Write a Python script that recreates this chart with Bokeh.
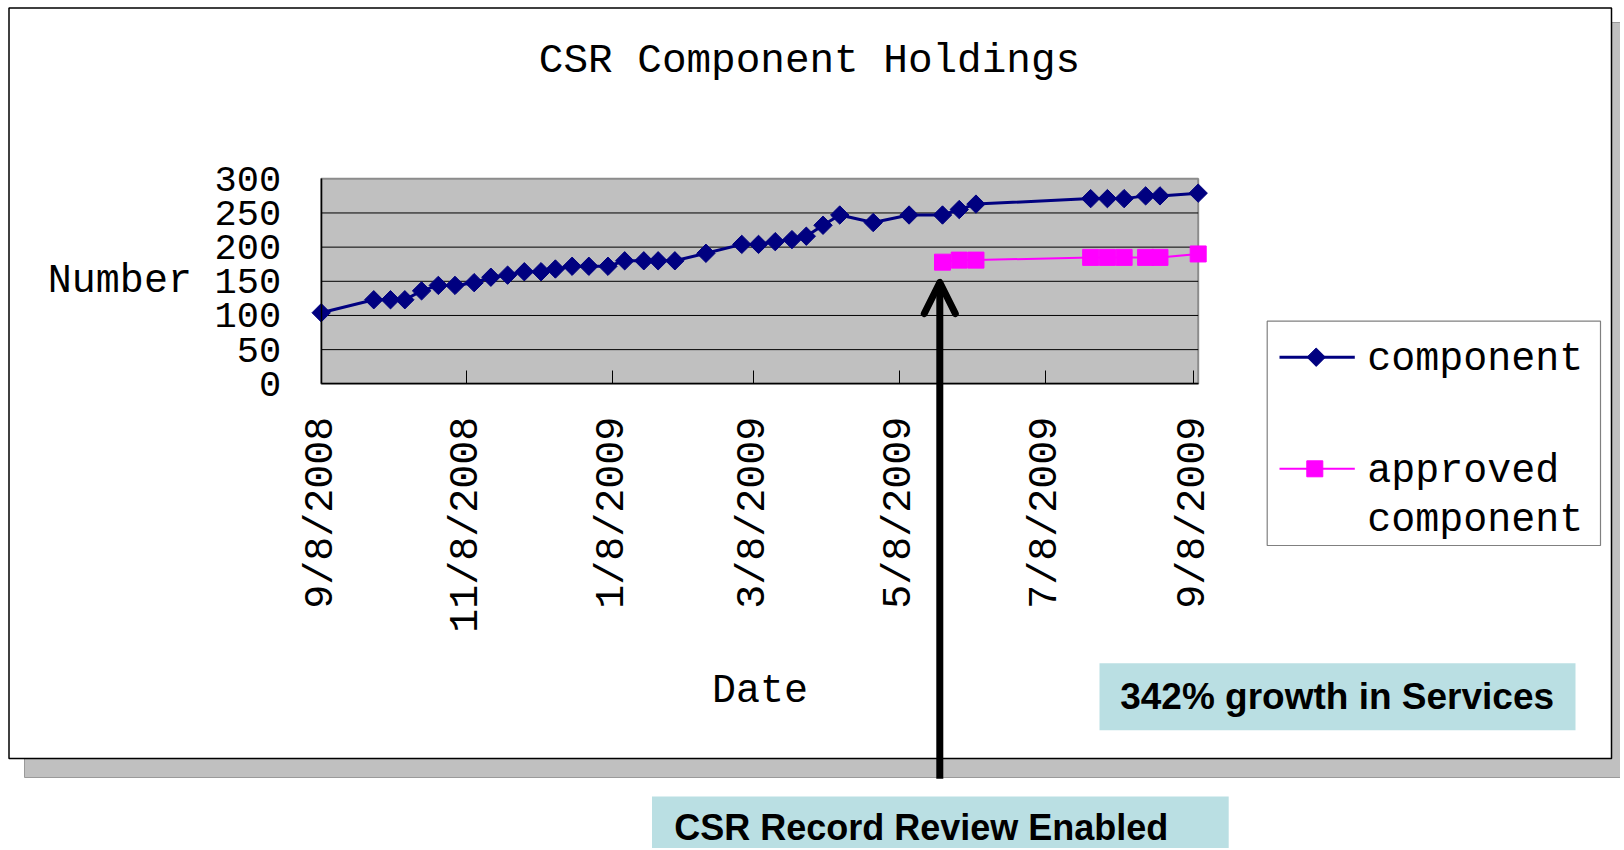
import math
import datetime as dt
from bokeh.plotting import figure
from bokeh.models import Range1d, LinearAxis, FixedTicker, Arrow, OpenHead, ColumnDataSource
from bokeh.core.properties import value
from bokeh.embed import file_html
from bokeh.resources import INLINE

# ---------------- data ----------------
title_text = "CSR Component Holdings"
y_label = "Number"
x_label = "Date"

component_dates = [
    "2008-09-08", "2008-09-30", "2008-10-07", "2008-10-13", "2008-10-20", "2008-10-27",
    "2008-11-03", "2008-11-11", "2008-11-18", "2008-11-25", "2008-12-02", "2008-12-09",
    "2008-12-15", "2008-12-22", "2008-12-29", "2009-01-06", "2009-01-13", "2009-01-21",
    "2009-01-27", "2009-02-03", "2009-02-16", "2009-03-03", "2009-03-10", "2009-03-17",
    "2009-03-24", "2009-03-30", "2009-04-06", "2009-04-13", "2009-04-27", "2009-05-12",
    "2009-05-26", "2009-06-02", "2009-06-09", "2009-07-27", "2009-08-03", "2009-08-10",
    "2009-08-19", "2009-08-25", "2009-09-10",
]
component_values = [
    104, 123, 123, 123, 136, 144,
    144, 148, 156, 159, 164, 164,
    168, 172, 172, 172, 180, 180,
    180, 180, 191, 204, 204, 208,
    211, 216, 232, 247, 236, 247,
    247, 255, 263, 271, 271, 271,
    275, 275, 279,
]
approved_dates = [
    "2009-05-26", "2009-06-02", "2009-06-09", "2009-07-27", "2009-08-03",
    "2009-08-10", "2009-08-19", "2009-08-25", "2009-09-10",
]
approved_values = [178, 181, 181, 185, 185, 185, 185, 185, 190]

x_tick_dates = ["2008-09-08", "2008-11-08", "2009-01-08", "2009-03-08",
                "2009-05-08", "2009-07-08", "2009-09-08"]
x_tick_labels = ["9/8/2008", "11/8/2008", "1/8/2009", "3/8/2009",
                 "5/8/2009", "7/8/2009", "9/8/2009"]
x_end_date = "2009-09-10"
y_ticks = [0, 50, 100, 150, 200, 250, 300]

legend_labels = ["component", "approved\ncomponent"]
note_growth = "342% growth in Services"
note_review = "CSR Record Review  Enabled"

# ---------------- layout ----------------
W, H = 1620, 848
OFF = 0
PLOT_L, PLOT_R = 320.7, 1197.7   # page px of plot area
PLOT_T, PLOT_B = 178.3, 383.3

NAVY = "#000080"
MAGENTA = "#FF00FF"
MONO = "Liberation Mono"
SANS = "Liberation Sans"
NOTE_BG = "#BADFE3"


def ms(s):
    d = dt.datetime.strptime(s, "%Y-%m-%d")
    return (d - dt.datetime(1970, 1, 1)).total_seconds() * 1000.0


t0 = ms(x_tick_dates[0])
t_end = ms(x_end_date)
px_per_ms = (PLOT_R - PLOT_L) / (t_end - t0)
x_start = t0 - (PLOT_L - OFF) / px_per_ms
x_stop = x_start + W / px_per_ms

y_min, y_max = y_ticks[0], y_ticks[-1]
k = (PLOT_B - PLOT_T) / (y_max - y_min)
y_bottom = y_min - (OFF + H - PLOT_B) / k
y_top = y_min + (PLOT_B - OFF) / k

p = figure(width=W, height=H, output_backend="svg", toolbar_location=None,
           x_axis_type=None, y_axis_type=None,
           x_range=Range1d(x_start, x_stop), y_range=Range1d(y_bottom, y_top),
           min_border=0, outline_line_color=None,
           background_fill_color="white", border_fill_color="white")
p.extra_x_ranges = {"px": Range1d(OFF, OFF + W)}
p.extra_y_ranges = {"px": Range1d(OFF + H, OFF)}
PX = dict(x_range_name="px", y_range_name="px")

# slide shadow and white panel
p.quad(left=[24], right=[1700], top=[22], bottom=[777], fill_color="#C0C0C0",
       line_color="#9A9A9A", line_width=1, **PX)
p.quad(left=[8.5], right=[1611], top=[7.5], bottom=[758], fill_color="white",
       line_color="black", line_width=1.5, **PX)

# plot area
p.quad(left=[t0], right=[t_end], bottom=[y_min], top=[y_max], fill_color="#C0C0C0",
       line_color="#8C8C8C", line_width=2)
grid_vals = y_ticks[1:-1]
p.segment(x0=[t0] * len(grid_vals), x1=[t_end] * len(grid_vals), y0=grid_vals, y1=grid_vals,
          line_color="black", line_width=1)

# series
comp = ColumnDataSource(dict(x=[ms(d) for d in component_dates], y=component_values))
appr = ColumnDataSource(dict(x=[ms(d) for d in approved_dates], y=approved_values))
p.line("x", "y", source=comp, line_color=NAVY, line_width=3)
p.scatter("x", "y", source=comp, marker="square", angle=math.pi / 4, size=13,
          fill_color=NAVY, line_color=NAVY)
p.line("x", "y", source=appr, line_color=MAGENTA, line_width=2)
p.scatter("x", "y", source=appr, marker="square", size=16,
          fill_color=MAGENTA, line_color=MAGENTA)

# axes
xaxis = LinearAxis(ticker=FixedTicker(ticks=[ms(d) for d in x_tick_dates]),
                   major_label_overrides={ms(d): l for d, l in zip(x_tick_dates, x_tick_labels)},
                   fixed_location=y_min, bounds=(t0, t_end),
                   axis_label=x_label)
xaxis.axis_line_color = "black"
xaxis.axis_line_width = 1.5
xaxis.major_tick_in = 13
xaxis.major_tick_out = 0
xaxis.major_tick_line_color = "black"
xaxis.minor_tick_line_color = None
xaxis.major_label_orientation = math.pi / 2
xaxis.major_label_standoff = 33
xaxis.major_label_text_font = MONO
xaxis.major_label_text_font_size = "40px"
xaxis.major_label_text_color = "black"
xaxis.axis_label_text_font = MONO
xaxis.axis_label_text_font_size = "40px"
xaxis.axis_label_text_font_style = "normal"
xaxis.axis_label_text_color = "black"
xaxis.axis_label_standoff = 33
p.add_layout(xaxis, "below")

yaxis = LinearAxis(ticker=FixedTicker(ticks=y_ticks), fixed_location=t0,
                   bounds=(y_min, y_max), axis_label=y_label)
yaxis.axis_label_orientation = "horizontal"
yaxis.axis_line_color = "black"
yaxis.axis_line_width = 1.5
yaxis.major_tick_in = 0
yaxis.major_tick_out = 0
yaxis.minor_tick_line_color = None
yaxis.major_label_standoff = 40
yaxis.major_label_text_font = MONO
yaxis.major_label_text_font_size = "37px"
yaxis.major_label_text_color = "black"
yaxis.axis_label_text_font = MONO
yaxis.axis_label_text_font_size = "40px"
yaxis.axis_label_text_font_style = "normal"
yaxis.axis_label_text_color = "black"
yaxis.axis_label_standoff = 20
p.add_layout(yaxis, "left")

TXT = dict(text_baseline="middle", text_color="black", **PX)

# title
p.text(x=[809], y=[60], text=[title_text], text_font=value(MONO),
       text_font_size=value("41px"), text_align="center", **TXT)

# legend
p.quad(left=[1266.7], right=[1600], top=[320.7], bottom=[545], fill_color="white",
       line_color="#808080", line_width=1.2, **PX)
leg_y = [356.7, 468.3]
p.segment(x0=[1279], x1=[1354.3], y0=[leg_y[0]], y1=[leg_y[0]], line_color=NAVY,
          line_width=3, **PX)
p.scatter(x=[1315.7], y=[leg_y[0]], marker="square", angle=math.pi / 4, size=13,
          fill_color=NAVY, line_color=NAVY, **PX)
p.segment(x0=[1279], x1=[1354.3], y0=[leg_y[1]], y1=[leg_y[1]], line_color=MAGENTA,
          line_width=2, **PX)
p.scatter(x=[1314.3], y=[leg_y[1]], marker="square", size=16,
          fill_color=MAGENTA, line_color=MAGENTA, **PX)
leg_lines = legend_labels[0].split("\n") + legend_labels[1].split("\n")
p.text(x=[1366.7] * 3, y=[358.5, 471, 519.5], text=leg_lines, text_font=value(MONO),
       text_font_size=value("40px"), text_align="left", **TXT)

# annotation boxes
p.quad(left=[1099], right=[1575], top=[662.8], bottom=[729.8], fill_color=NOTE_BG,
       line_color=None, **PX)
p.text(x=[1336.6], y=[696], text=[note_growth], text_font=value(SANS),
       text_font_style="bold", text_font_size=value("37px"), text_align="center", **TXT)
p.quad(left=[651.5], right=[1228.2], top=[796], bottom=[900], fill_color=NOTE_BG,
       line_color=None, **PX)
p.text(x=[673.7], y=[826.5], text=[note_review], text_font=value(SANS),
       text_font_style="bold", text_font_size=value("36px"), text_align="left", **TXT)

# arrow
p.add_layout(Arrow(end=OpenHead(size=31, line_width=7, line_color="black",
                                line_join="round", line_cap="round"),
                   x_start=939.3, y_start=778.3, x_end=939.3, y_end=282,
                   line_width=7, line_color="black", **PX))

open("out.html", "w").write(file_html(p, INLINE))
